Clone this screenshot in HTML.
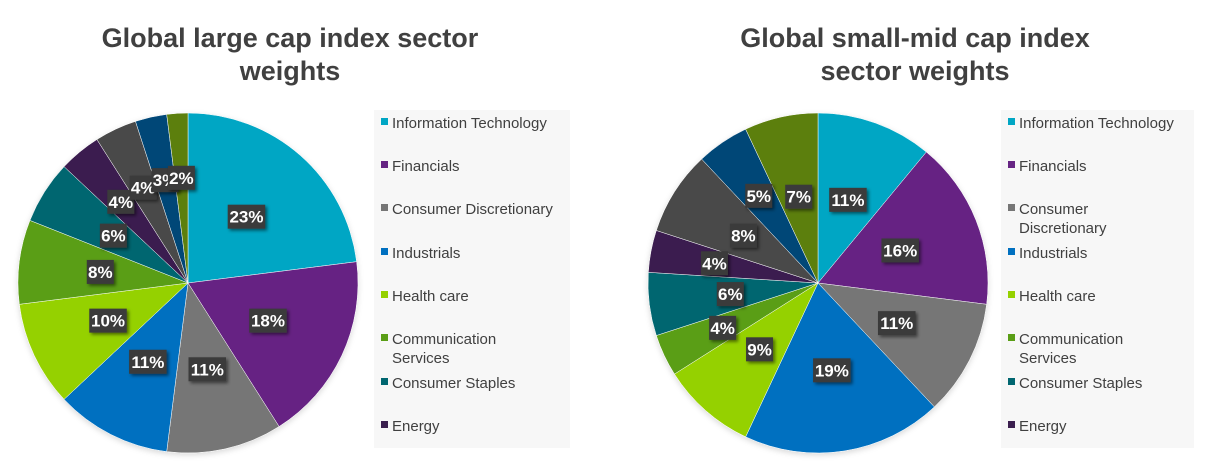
<!DOCTYPE html>
<html><head><meta charset="utf-8"><style>
body{margin:0;background:#fff;width:1213px;height:465px;overflow:hidden;font-family:"Liberation Sans",sans-serif}
svg{display:block}
</style></head><body>
<svg id="c" width="1213" height="465">
<defs><filter id="sh" x="-20%" y="-20%" width="150%" height="150%"><feDropShadow dx="2" dy="2" stdDeviation="1.5" flood-color="#000" flood-opacity="0.5"/></filter>
<filter id="ps"><feDropShadow dx="0" dy="2" stdDeviation="3" flood-color="#000" flood-opacity="0.15"/></filter></defs>
</svg>
<script>
const sectors=["Information Technology","Financials","Consumer Discretionary","Industrials","Health care","Communication Services","Consumer Staples","Energy","Materials","Utilities","Real Estate"];
const colors=["#00a6c4","#662483","#767676","#0070c0","#95d100","#5a9e16","#006670","#3b1f4f","#4a4a4a","#004677","#5b7f0a"];
const largeCap=[23,18,11,11,10,8,6,4,4,3,2];
const smallMid=[11,16,11,19,9,4,6,4,8,5,7];
const titlesLarge=["Global large cap index sector","weights"];
const titlesSmall=["Global small-mid cap index","sector weights"];
const legendLarge=[["Information Technology"],["Financials"],["Consumer Discretionary"],["Industrials"],["Health care"],["Communication","Services"],["Consumer Staples"],["Energy"]];
const legendSmall=[["Information Technology"],["Financials"],["Consumer","Discretionary"],["Industrials"],["Health care"],["Communication","Services"],["Consumer Staples"],["Energy"]];
const NS="http://www.w3.org/2000/svg";
const svg=document.getElementById('c');
function mk(t,a,p){const e=document.createElementNS(NS,t);for(const k in a)e.setAttribute(k,a[k]);(p||svg).appendChild(e);return e;}
function draw(vals,cx,cy,R,titles,tx,legend,lx,lw,key){
  const g=mk('g',{});
  
  
  titles.forEach((t,i)=>{const e=mk('text',{x:tx,y:47+i*33,'text-anchor':'middle','font-size':27,'font-weight':'bold',fill:'#404040'},g);e.textContent=t;
    
    });
  const tot=vals.reduce((a,b)=>a+b,0);
  const pie=mk('g',{filter:'url(#ps)'},g);
  let a=0;const labs=[];
  vals.forEach((v,i)=>{
    const a0=a/tot*2*Math.PI,a1=(a+v)/tot*2*Math.PI;a+=v;
    const x0=cx+R*Math.sin(a0),y0=cy-R*Math.cos(a0),x1=cx+R*Math.sin(a1),y1=cy-R*Math.cos(a1);
    const p=mk('path',{d:`M${cx},${cy}L${x0},${y0}A${R},${R} 0 ${a1-a0>Math.PI?1:0} 1 ${x1},${y1}Z`,fill:colors[i],stroke:'#fff','stroke-width':0.5},pie);
    
    
    const m=(a0+a1)/2,rr=R*(v<6?0.62:0.52);
    labs.push([cx+rr*Math.sin(m),cy-rr*Math.cos(m),v]);
  });
  labs.forEach(([x,y,v])=>{
    const t=v+'%';const w=t.length*10.5+6;
    const lg=mk('g',{},g);
    
    
    mk('rect',{x:x-w/2,y:y-12,width:w,height:24,fill:'#3a3a3a',filter:'url(#sh)'},lg);
    const e=mk('text',{x:x,y:y+6,'text-anchor':'middle','font-size':17,'font-weight':'bold',fill:'#fff'},lg);e.textContent=t;
  });
  const bg=mk('rect',{x:lx,y:110,width:lw,height:338,fill:'#f7f7f7'},g);
  
  
  const ys=[122,165,208,252,295,338,382,425];
  legend.forEach((L,i)=>{
    const le=mk('g',{},g);
    
    
    mk('rect',{x:lx+7,y:ys[i]-4,width:7,height:7,fill:colors[i]},le);
    L.forEach((s,j)=>{const e=mk('text',{x:lx+18,y:ys[i]+6+j*19,'font-size':15,fill:'#404040'},le);e.textContent=s;});
  });
}
draw(largeCap,188,283,170,titlesLarge,290,legendLarge,374,196,'large-cap');
draw(smallMid,818,283,170,titlesSmall,915,legendSmall,1001,193,'small-mid-cap');
</script>
</body></html>
